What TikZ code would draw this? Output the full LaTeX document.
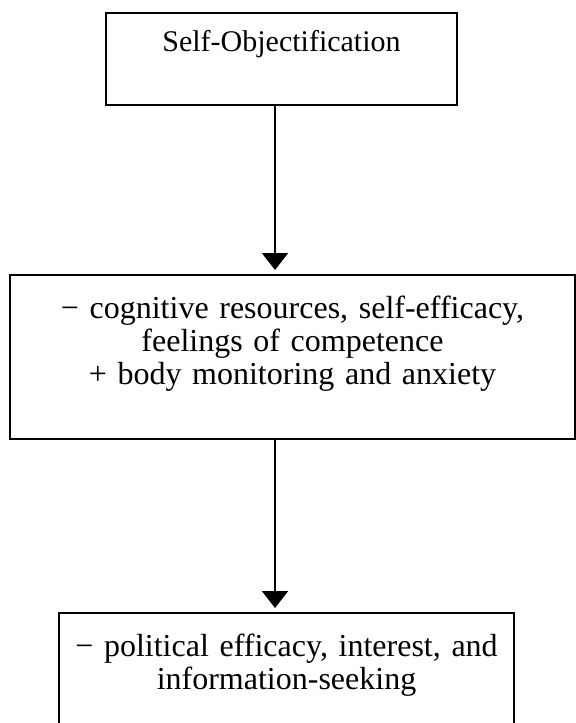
\documentclass[tikz,border=0pt]{standalone}
\usepackage{fontspec}
\setmainfont{Liberation Serif}
\usepackage{tikz}
\usetikzlibrary{arrows.meta,positioning}
\tikzset{
  stage/.style={rectangle,draw=black,line width=1pt,inner sep=0pt,align=center,font=\fontsize{16}{16.5}\selectfont},
  arrow/.style={-{Triangle[width=13pt,length=8.5pt]},line width=1pt,shorten >=2pt}
}

\begin{document}
\begin{tikzpicture}[node distance=84pt]
  \useasboundingbox (0,0) rectangle (288pt,-361.5pt);
  \node[stage,anchor=north,text width=175.5pt,text height=19pt,text depth=27pt,font=\fontsize{15}{16}\selectfont] (selfobj) at (140.75pt,-6pt) {Self-Objectification};
  \node[stage,below=of selfobj,xshift=5.5pt,text width=282.5pt,text height=21.5pt,text depth=60.5pt] (mediators) {− cognitive resources, self-efficacy,\\ feelings of competence\\ + body monitoring and anxiety};
  \node[stage,below=86pt of mediators,xshift=-3pt,text width=227.5pt,text height=21.5pt,text depth=34.5pt] (outcome) {− political efficacy, interest, and\\ information-seeking};
  \coordinate (spine) at (137.5pt,0);
  \draw[arrow] (selfobj.south -| spine) -- (mediators.north -| spine);
  \draw[arrow] (mediators.south -| spine) -- (outcome.north -| spine);
\end{tikzpicture}
\end{document}
